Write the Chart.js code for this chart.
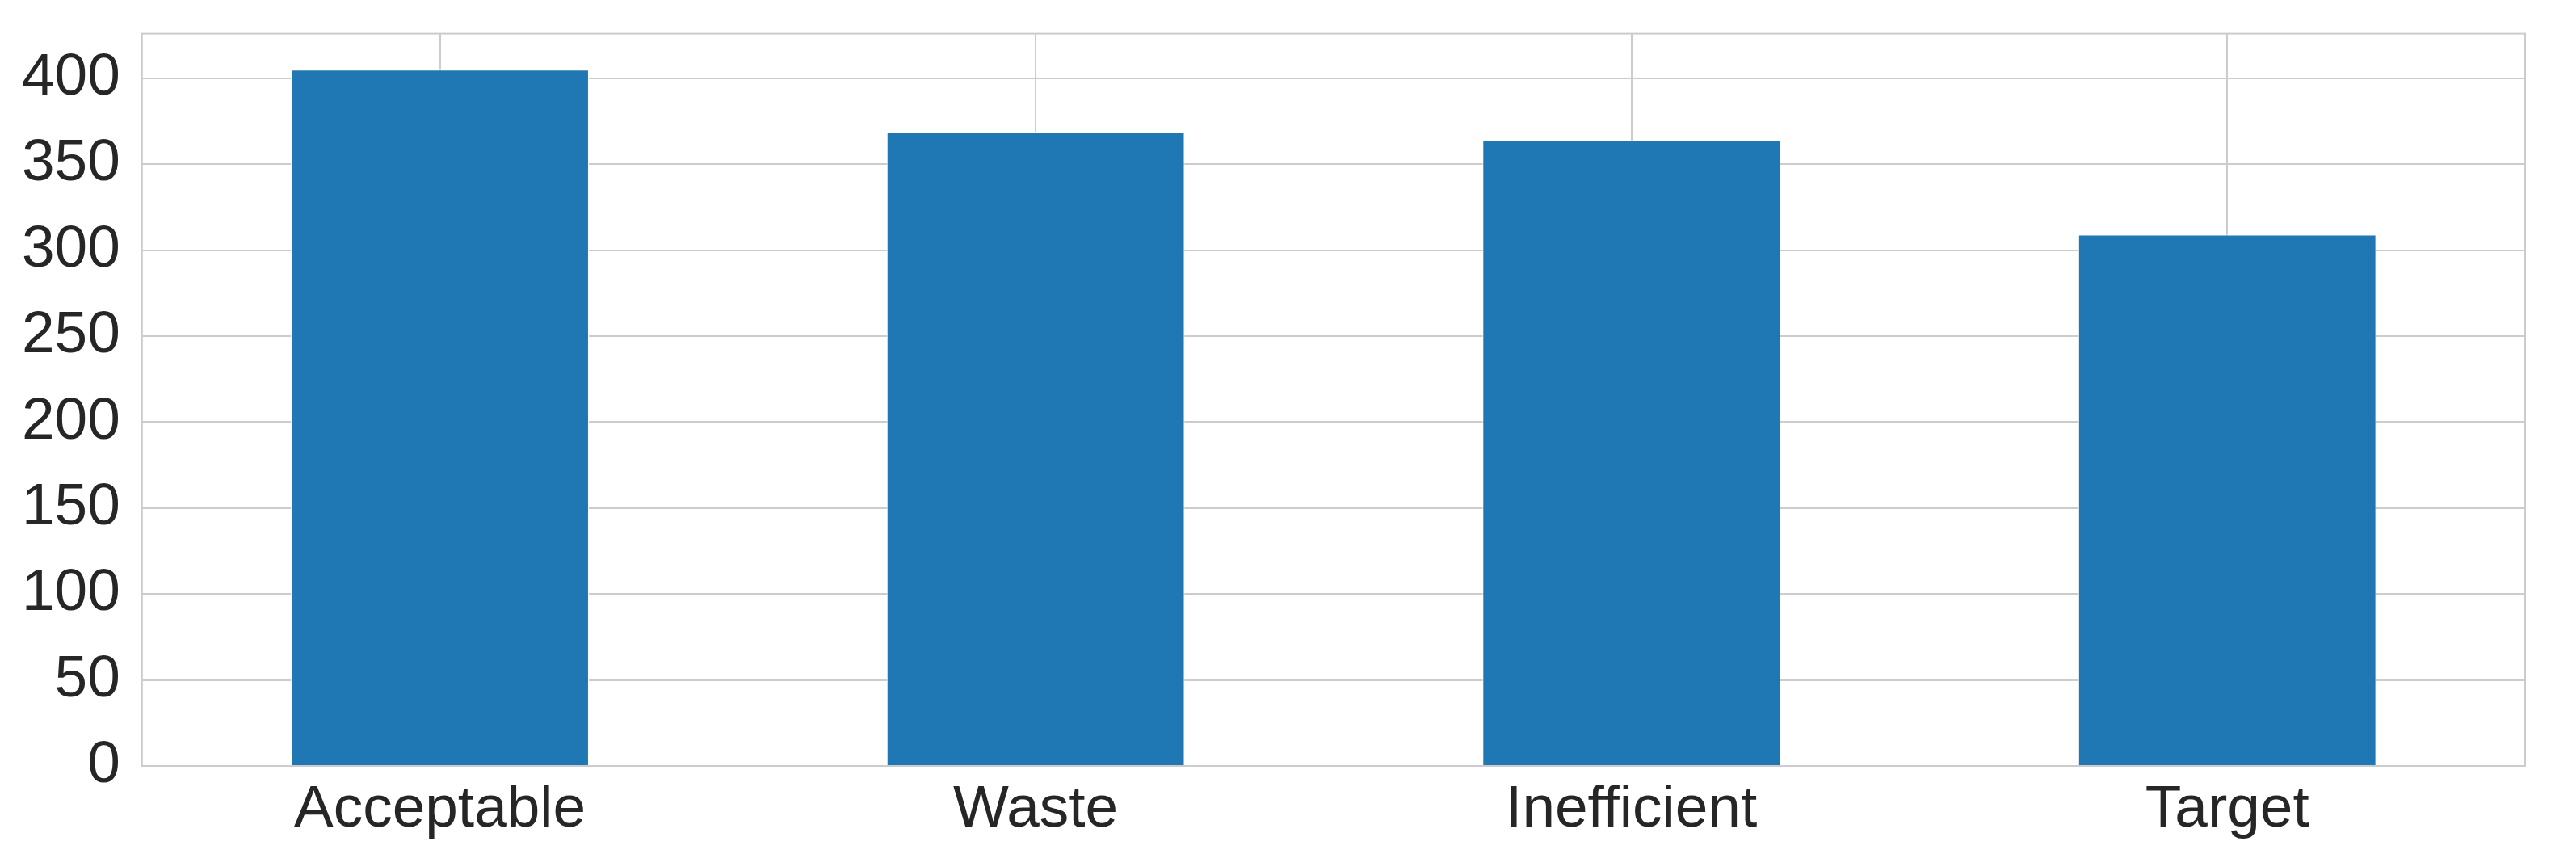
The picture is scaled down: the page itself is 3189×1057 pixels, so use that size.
<!DOCTYPE html>
<html>
<head>
  <meta charset="utf-8">
  <title>Categories</title>
  <script src="https://cdn.jsdelivr.net/npm/chart.js"></script>
  <style>
    html, body { margin: 0; padding: 0; background: #fff; }
    #wrap { width: 3189px; height: 1057px; }
  </style>
</head>
<body>
  <div id="wrap"><canvas id="chart"></canvas></div>

  <script>
    const categories = ['Acceptable', 'Waste', 'Inefficient', 'Target'];
    const counts = [405, 369, 364, 309];
    const yTicks = [0, 50, 100, 150, 200, 250, 300, 350, 400];
    const yMax = 426;

    // frame round the plot area, like the matplotlib spines
    const frame = {
      id: 'frame',
      beforeDatasetsDraw(chart) {
        const { ctx, chartArea: a } = chart;
        ctx.save();
        ctx.strokeStyle = '#cccccc';
        ctx.lineWidth = 2;
        ctx.strokeRect(a.left, a.top, a.right - a.left, a.bottom - a.top);
        ctx.restore();
      }
    };

    const family = "'Liberation Sans', Arial, sans-serif";

    new Chart(document.getElementById('chart'), {
      type: 'bar',
      data: {
        labels: categories,
        datasets: [{
          data: counts,
          backgroundColor: '#1f77b4',
          borderColor: '#ffffff',
          borderWidth: 1,
          categoryPercentage: 0.5,
          barPercentage: 1.0
        }]
      },
      options: {
        responsive: true,
        maintainAspectRatio: false,
        animation: false,
        layout: { padding: { left: 0, right: 63, top: 41, bottom: 0 } },
        plugins: { legend: { display: false }, tooltip: { enabled: false } },
        scales: {
          x: {
            offset: true,
            grid: { offset: false, color: '#cccccc', lineWidth: 2, drawTicks: false },
            border: { display: false },
            ticks: { color: '#262626', font: { family: family, size: 73, lineHeight: 1.0 }, padding: 18 }
          },
          y: {
            min: 0,
            max: yMax,
            afterBuildTicks: scale => {
              scale.ticks = yTicks.map(v => ({ value: v }));
            },
            grid: { color: '#cccccc', lineWidth: 2, drawTicks: false },
            border: { display: false },
            ticks: { color: '#262626', font: { family: family, size: 73, lineHeight: 0.4 }, padding: 27 }
          }
        }
      },
      plugins: [frame]
    });
  </script>
</body>
</html>
